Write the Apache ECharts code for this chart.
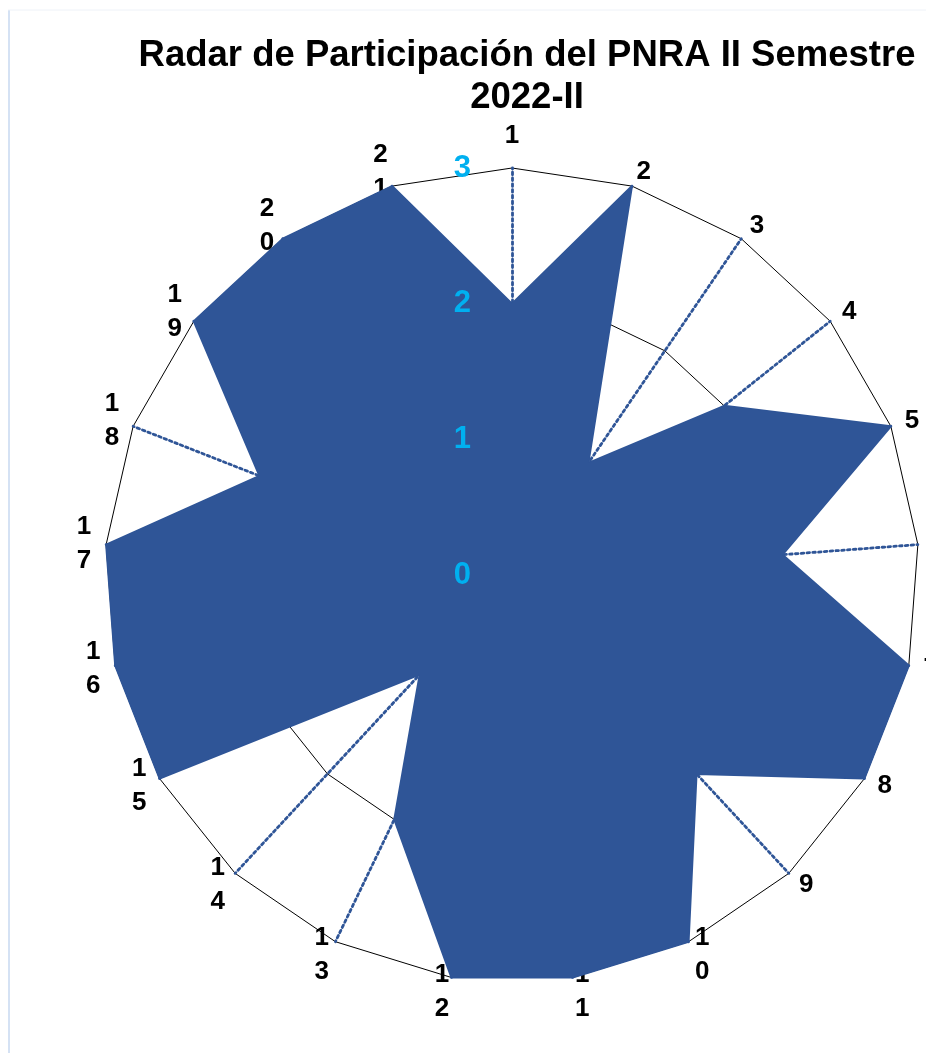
<!DOCTYPE html>
<html>
<head>
<meta charset="utf-8">
<script src="https://cdn.jsdelivr.net/npm/echarts@6/dist/echarts.min.js"></script>
<style>
  html, body { margin: 0; padding: 0; background: #ffffff; }
  #chart { width: 926px; height: 1053px; }
</style>
</head>
<body>
<div id="chart"></div>
<script>
const titleText = 'Radar de Participación del PNRA II Semestre\n2022-II';
const categories = ['1','2','3','4','5','6','7','8','9','10','11','12','13','14','15','16','17','18','19','20','21'];
const values = [2, 3, 1, 2, 3, 2, 3, 3, 2, 3, 3, 3, 2, 1, 3, 3, 3, 2, 3, 3, 3];
const axisMin = 0;
const axisMax = 3;
const axisSplits = 3;

// ECharts radar runs counter-clockwise; reorder so categories run clockwise from the top.
const order = [0].concat(categories.map((_, i) => i).slice(1).reverse());
const cwCategories = order.map(i => categories[i]);
const cwValues = order.map(i => values[i]);

const chart = echarts.init(document.getElementById('chart'), null, { renderer: 'canvas' });
const center = [512, 575];
const radius = 407;

const option = {
  animation: false,
  backgroundColor: '#ffffff',
  title: {
    text: titleText,
    left: 527,
    top: 35,
    padding: 0,
    textAlign: 'center',
    textStyle: {
      fontFamily: 'Liberation Sans, Arial, sans-serif',
      fontWeight: 'bold',
      fontSize: 36.5,
      lineHeight: 42,
      color: '#000000'
    }
  },
  graphic: [
    { type: 'line', z: 0, shape: { x1: 9, y1: 10, x2: 9, y2: 1053 }, style: { stroke: '#d5e2f4', lineWidth: 2 } },
    { type: 'line', z: 0, shape: { x1: 8, y1: 10, x2: 926, y2: 10 }, style: { stroke: '#eef2f8', lineWidth: 1 } }
  ],
  radar: [
    {
      z: 1,
      center: center,
      radius: radius,
      startAngle: 90,
      shape: 'polygon',
      splitNumber: axisSplits,
      indicator: cwCategories.map(c => ({ name: c, min: axisMin, max: axisMax })),
      axisName: {
        formatter: n => n.split('').join('\n'),
        color: '#000000',
        fontFamily: 'Liberation Sans, Arial, sans-serif',
        fontWeight: 'bold',
        fontSize: 26,
        lineHeight: 34
      },
      nameGap: 15,
      axisLine: { show: true, lineStyle: { color: '#2F5597', width: 2.8, type: [2.6, 3.2] } },
      splitLine: { show: true, lineStyle: { color: '#000000', width: 1 } },
      splitArea: { show: false },
      axisTick: { show: false },
      axisLabel: { show: false }
    },
    {
      z: 5,
      center: center,
      radius: radius,
      startAngle: 90,
      shape: 'polygon',
      splitNumber: axisSplits,
      indicator: [{ name: '', min: axisMin, max: axisMax }],
      axisName: { show: false },
      axisLine: { show: false },
      splitLine: { show: false },
      splitArea: { show: false },
      axisTick: { show: false },
      axisLabel: {
        show: true,
        margin: 41,
        color: '#00B0F0',
        fontFamily: 'Liberation Sans, Arial, sans-serif',
        fontWeight: 'bold',
        fontSize: 31
      }
    }
  ],
  series: [
    {
      type: 'radar',
      radarIndex: 0,
      z: 2,
      symbol: 'none',
      lineStyle: { color: '#2F5597', width: 2 },
      areaStyle: { color: '#2F5597', opacity: 1 },
      data: [{ value: cwValues, name: 'Participación' }]
    }
  ]
};
chart.setOption(option);
</script>
</body>
</html>
